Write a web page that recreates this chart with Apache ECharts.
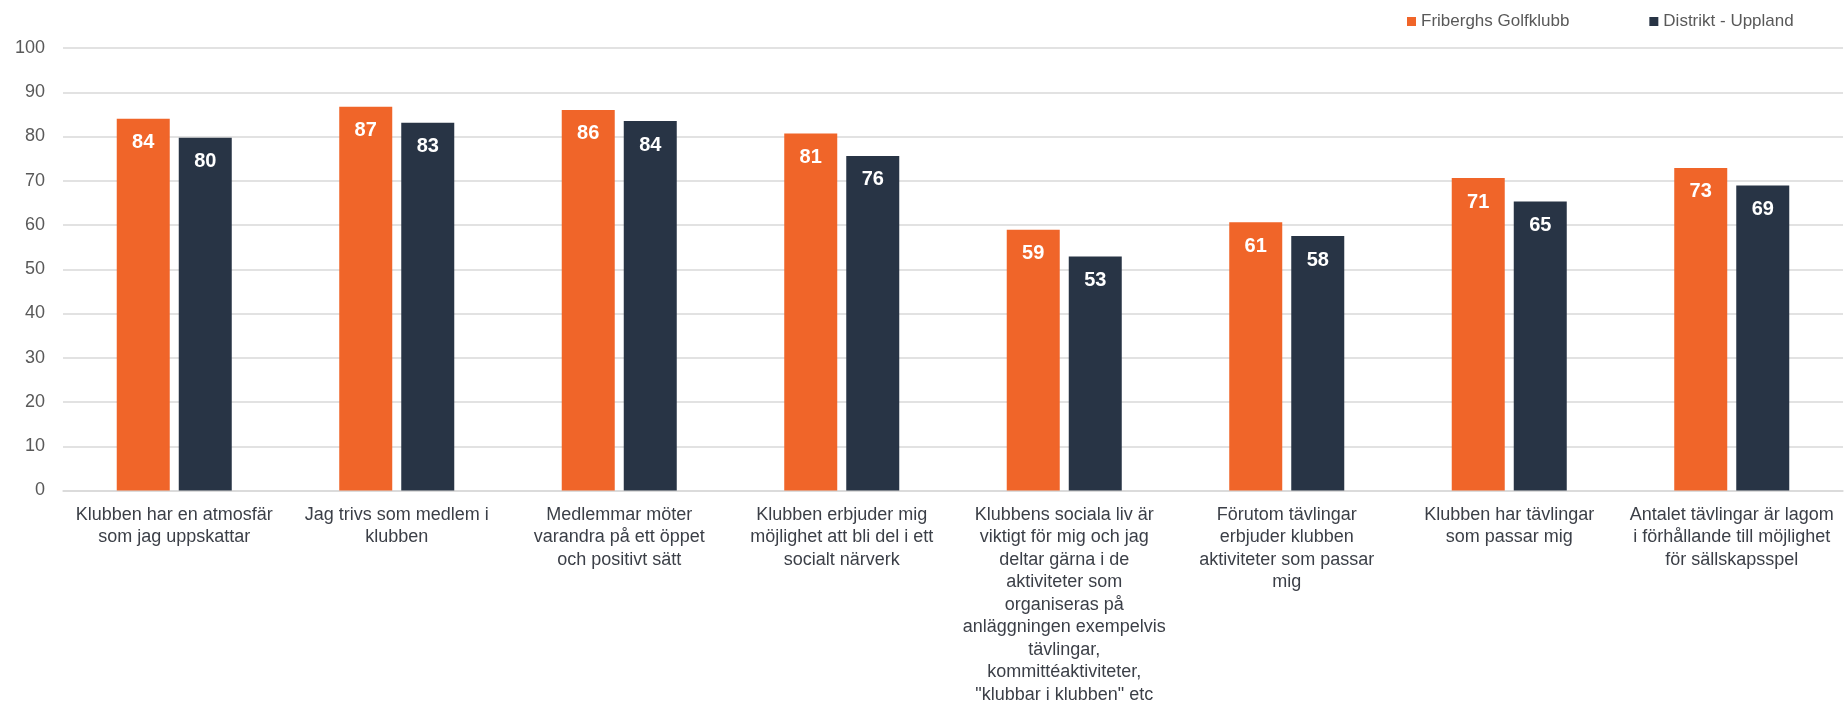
<!DOCTYPE html>
<html>
<head>
<meta charset="utf-8">
<script src="https://cdn.jsdelivr.net/npm/echarts@6/dist/echarts.min.js"></script>
<style>
html,body{margin:0;padding:0;background:#fff;}
#chart{width:1847px;height:706px;}
</style>
</head>
<body>
<div id="chart"></div>
<script>
const categories = [
  "Klubben har en atmosfär\nsom jag uppskattar",
  "Jag trivs som medlem i\nklubben",
  "Medlemmar möter\nvarandra på ett öppet\noch positivt sätt",
  "Klubben erbjuder mig\nmöjlighet att bli del i ett\nsocialt närverk",
  "Klubbens sociala liv är\nviktigt för mig och jag\ndeltar gärna i de\naktiviteter som\norganiseras på\nanläggningen exempelvis\ntävlingar,\nkommittéaktiviteter,\n\"klubbar i klubben\" etc",
  "Förutom tävlingar\nerbjuder klubben\naktiviteter som passar\nmig",
  "Klubben har tävlingar\nsom passar mig",
  "Antalet tävlingar är lagom\ni förhållande till möjlighet\nför sällskapsspel"
];
const seriesNames = ["Friberghs Golfklubb", "Distrikt - Uppland"];
const clubValues = [84.0, 86.7, 86.0, 80.7, 58.9, 60.6, 70.6, 72.9];
const districtValues = [79.7, 83.1, 83.5, 75.6, 52.9, 57.5, 65.3, 68.9];
const yTicks = [0, 10, 20, 30, 40, 50, 60, 70, 80, 90, 100];

const colors = ["#F06529", "#283445"];
const chart = echarts.init(document.getElementById('chart'), null, {renderer: 'canvas'});

const valueLabel = {
  show: true,
  position: 'insideTop',
  distance: 14,
  color: '#ffffff',
  fontWeight: 'bold',
  fontSize: 20,
  lineHeight: 20,
  fontFamily: 'Liberation Sans, Arial, sans-serif',
  formatter: p => String(Math.round(p.value))
};

chart.setOption({
  animation: false,
  backgroundColor: '#ffffff',
  textStyle: {fontFamily: 'Liberation Sans, Arial, sans-serif'},
  legend: {
    data: seriesNames,
    left: 1402,
    top: 8,
    icon: 'rect',
    itemWidth: 9,
    itemHeight: 9,
    itemGap: 80,
    textStyle: {color: '#595959', fontSize: 17, fontFamily: 'Liberation Sans, Arial, sans-serif'}
  },
  grid: {left: 63, right: 4, top: 48, bottom: 213, containLabel: false},
  xAxis: {
    type: 'category',
    data: categories,
    axisLine: {show: true, lineStyle: {color: '#d9d9d9', width: 1.5}},
    axisTick: {show: false},
    axisLabel: {
      interval: 0,
      margin: 13,
      color: '#3b3f47',
      fontSize: 18,
      lineHeight: 22.5,
      align: 'center',
      fontFamily: 'Liberation Sans, Arial, sans-serif'
    }
  },
  yAxis: {
    type: 'value',
    min: yTicks[0],
    max: yTicks[yTicks.length - 1],
    interval: 10,
    axisLine: {show: false},
    axisTick: {show: false},
    splitLine: {lineStyle: {color: '#d9d9d9', width: 1.5}},
    axisLabel: {color: '#595959', fontSize: 18, margin: 18, fontFamily: 'Liberation Sans, Arial, sans-serif'}
  },
  series: [
    {
      name: seriesNames[0],
      type: 'bar',
      data: clubValues,
      barWidth: 53,
      barGap: '17%',
      itemStyle: {color: colors[0]},
      label: valueLabel
    },
    {
      name: seriesNames[1],
      type: 'bar',
      data: districtValues,
      barWidth: 53,
      barGap: '17%',
      itemStyle: {color: colors[1]},
      label: valueLabel
    }
  ]
});
</script>
</body>
</html>
